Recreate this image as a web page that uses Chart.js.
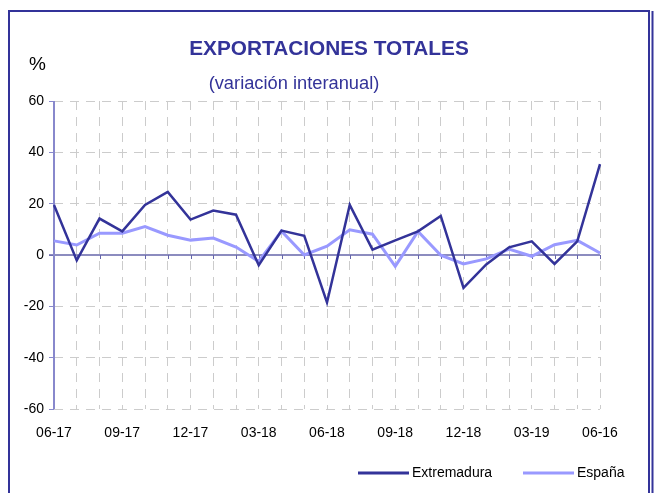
<!DOCTYPE html>
<html>
<head>
<meta charset="utf-8">
<title>Exportaciones totales</title>
<script src="https://cdn.jsdelivr.net/npm/chart.js@4"></script>
<style>
    html, body { margin: 0; padding: 0; background: #ffffff; }
    #wrap { position: relative; width: 655px; height: 493px; }
</style>
</head>
<body>
<div id="wrap"><canvas id="chart" width="655" height="493"></canvas></div>
<script>
// Months shown on the x axis (the last label reads "06-16" in the original)
const months = [
    '06-17', '07-17', '08-17', '09-17', '10-17', '11-17', '12-17',
    '01-18', '02-18', '03-18', '04-18', '05-18', '06-18', '07-18',
    '08-18', '09-18', '10-18', '11-18', '12-18', '01-19', '02-19',
    '03-19', '04-19', '05-19', '06-16'
];

// Year-on-year change, %
const extremadura = [19.5, -2.1, 14.2, 9.2, 19.5, 24.6, 13.8, 17.3, 15.7, -4.0, 9.5, 7.5,
    -18.5, 19.5, 2.1, 5.7, 9.2, 15.2, -12.8, -3.7, 3.0, 5.3, -3.5, 5.3, 35.4];
const espana = [5.5, 3.9, 8.5, 8.5, 11.1, 7.7, 5.8, 6.6, 3.1, -2.5, 9.3, 0.0,
    3.4, 9.8, 8.1, -4.4, 9.2, -0.1, -3.5, -1.5, 2.3, -0.5, 4.0, 5.7, 0.8];

const yTicks = [-60, -40, -20, 0, 20, 40, 60];

const FONT = "'Liberation Sans', Arial, sans-serif";
const DARK = '#333399';
const LIGHT = '#9999ff';

Chart.defaults.font.family = FONT;

/**
 * Frame, headings, zero line and legend drawn on the canvas
 */
const decorations = {
    id: 'decorations',

    beforeDatasetsDraw(chart) {
        const { ctx, chartArea, scales } = chart;
        const y0 = scales.y.getPixelForValue(0);

        ctx.save();
        // zero line
        ctx.strokeStyle = '#6666aa';
        ctx.lineWidth = 1.5;
        ctx.beginPath();
        ctx.moveTo(chartArea.left - 5, y0);
        ctx.lineTo(chartArea.right, y0);
        ctx.stroke();

        // small tick marks under the zero line
        ctx.lineWidth = 1;
        months.forEach((m, i) => {
            const x = Math.round(scales.x.getPixelForValue(i)) + 0.5;
            ctx.beginPath();
            ctx.moveTo(x, y0);
            ctx.lineTo(x, y0 + 4);
            ctx.stroke();
        });

        // left axis line, drawn above the dashed grid
        ctx.strokeStyle = '#8888cc';
        ctx.lineWidth = 2;
        ctx.beginPath();
        ctx.moveTo(chartArea.left, chartArea.top);
        ctx.lineTo(chartArea.left, chartArea.bottom);
        ctx.stroke();
        ctx.restore();
    },

    afterDraw(chart) {
        const { ctx } = chart;
        ctx.save();

        // outer frame
        ctx.strokeStyle = DARK;
        ctx.lineWidth = 2;
        ctx.beginPath();
        ctx.moveTo(9, 500);
        ctx.lineTo(9, 11);
        ctx.lineTo(649, 11);
        ctx.lineTo(649, 500);
        ctx.stroke();
        ctx.beginPath();
        ctx.moveTo(652.5, 11);
        ctx.lineTo(652.5, 500);
        ctx.stroke();

        // headings
        ctx.fillStyle = DARK;
        ctx.textAlign = 'center';
        ctx.textBaseline = 'alphabetic';
        ctx.font = `bold 20.8px ${FONT}`;
        ctx.fillText('EXPORTACIONES TOTALES', 329, 55);
        ctx.font = `18.3px ${FONT}`;
        ctx.fillText('(variación interanual)', 294, 88.5);

        ctx.fillStyle = '#000000';
        ctx.textAlign = 'left';
        ctx.font = `19px ${FONT}`;
        ctx.fillText('%', 29, 70);

        // legend
        const legendX = [358, 523];
        chart.data.datasets.forEach((ds, i) => {
            const x = legendX[i];
            ctx.strokeStyle = ds.borderColor;
            ctx.lineWidth = 3;
            ctx.beginPath();
            ctx.moveTo(x, 473);
            ctx.lineTo(x + 51, 473);
            ctx.stroke();
            ctx.fillStyle = '#000000';
            ctx.font = `14px ${FONT}`;
            ctx.textBaseline = 'middle';
            ctx.fillText(ds.label, x + 54, 473);
        });

        ctx.restore();
    }
};

new Chart(document.getElementById('chart'), {
    type: 'line',
    data: {
        labels: months,
        datasets: [
            {
                label: 'Extremadura',
                data: extremadura,
                borderColor: DARK,
                borderWidth: 2.5,
                pointRadius: 0,
                tension: 0
            },
            {
                label: 'España',
                data: espana,
                borderColor: LIGHT,
                borderWidth: 3,
                pointRadius: 0,
                tension: 0
            }
        ]
    },
    options: {
        responsive: false,
        animation: false,
        layout: {
            padding: { left: 0, top: 101, right: 55, bottom: 0 }
        },
        plugins: {
            legend: { display: false },
            title: { display: false },
            tooltip: { enabled: false }
        },
        scales: {
            x: {
                offset: false,
                afterFit(scale) { scale.height = 84; },
                grid: {
                    color: '#cccccc',
                    lineWidth: 1,
                    drawTicks: false
                },
                border: { display: false, dash: [9, 7] },
                ticks: {
                    autoSkip: false,
                    maxRotation: 0,
                    padding: 16,
                    color: '#000000',
                    font: { size: 14 },
                    callback: (v, i) => (i % 3 === 0 ? months[i] : '')
                }
            },
            y: {
                min: yTicks[0],
                max: yTicks[yTicks.length - 1],
                afterFit(scale) { scale.width = 54; },
                afterBuildTicks(scale) {
                    scale.ticks = yTicks.map(v => ({ value: v }));
                },
                grid: {
                    color: ctx => (ctx.tick && ctx.tick.value === 0 ? 'rgba(0,0,0,0)' : '#cccccc'),
                    tickColor: '#8888cc',
                    tickLength: 5,
                    lineWidth: 1
                },
                border: { display: false, dash: [9, 7] },
                ticks: {
                    padding: 5,
                    color: '#000000',
                    font: { size: 14 }
                }
            }
        }
    },
    plugins: [decorations]
});
</script>
</body>
</html>
